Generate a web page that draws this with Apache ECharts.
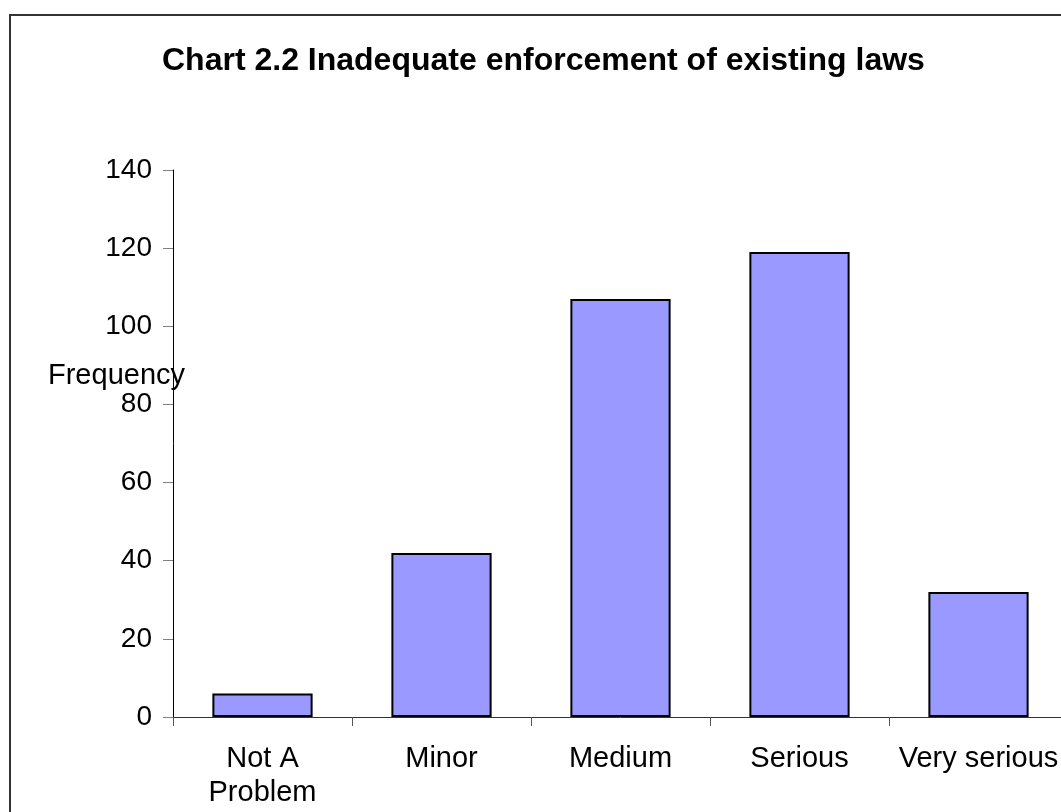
<!DOCTYPE html>
<html>
<head>
<meta charset="utf-8">
<script src="https://cdn.jsdelivr.net/npm/echarts@6/dist/echarts.min.js"></script>
<style>
  html, body { margin: 0; padding: 0; background: #fff; overflow: hidden; }
  /* the plot runs slightly past the right edge of the window */
  #chart { width: 1100px; height: 812px; }
</style>
</head>
<body>
<div id="chart"></div>
<script>
// Survey responses: how serious a problem inadequate enforcement is
const chartTitle = 'Chart 2.2 Inadequate enforcement of existing laws';
const categories = ['Not A\nProblem', 'Minor', 'Medium', 'Serious', 'Very serious'];
const frequency = [6, 42, 107, 119, 32];
const yAxisTitle = 'Frequency';

const font = '"Liberation Sans", Arial, sans-serif';
const chart = echarts.init(document.getElementById('chart'), null, { renderer: 'canvas' });

chart.setOption({
  backgroundColor: '#ffffff',
  animation: false,
  title: {
    text: chartTitle,
    left: 157,
    top: 40,
    textStyle: { fontFamily: font, fontSize: 32, fontWeight: 'bold', color: '#000' }
  },
  grid: { left: 173, top: 170, width: 895, height: 547 },
  xAxis: {
    type: 'category',
    data: categories,
    axisLine: { lineStyle: { color: '#333', width: 1 } },
    axisTick: { show: true, length: 9, alignWithLabel: false, lineStyle: { color: '#555' } },
    axisLabel: {
      interval: 0,
      margin: 25,
      fontFamily: font,
      fontSize: 29,
      lineHeight: 34,
      color: '#000'
    },
    splitLine: { show: false }
  },
  yAxis: {
    type: 'value',
    min: 0,
    max: 140,
    interval: 20,
    axisLine: { show: true, lineStyle: { color: '#000', width: 1 } },
    axisTick: { show: true, length: 10, lineStyle: { color: '#808080' } },
    axisLabel: { margin: 21, fontFamily: font, fontSize: 28, color: '#000' },
    splitLine: { show: false }
  },
  series: [{
    type: 'bar',
    data: frequency,
    barCategoryGap: '44%',
    itemStyle: { color: '#9999ff', borderColor: '#000', borderWidth: 2 }
  }],
  graphic: [
    {
      type: 'rect',
      silent: true,
      z: -1,
      shape: { x: 10, y: 15, width: 1200, height: 1000 },
      style: { fill: 'none', stroke: '#333', lineWidth: 2 }
    },
    {
      type: 'text',
      left: 48,
      top: 361,
      z: 10,
      style: { text: yAxisTitle, font: '29px ' + font, fill: '#000' }
    }
  ]
});
</script>
</body>
</html>
